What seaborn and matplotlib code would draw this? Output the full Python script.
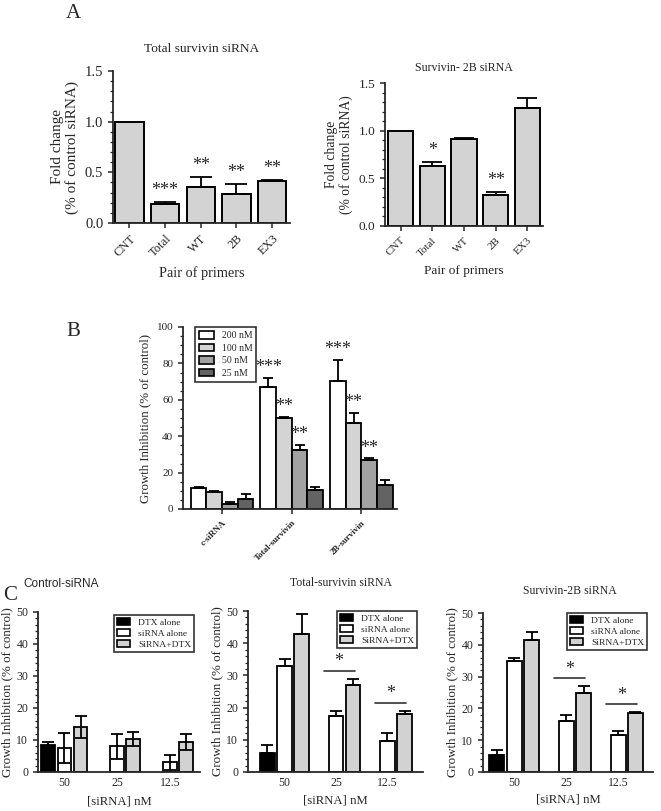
import numpy as np
import pandas as pd
import seaborn as sns
import matplotlib.pyplot as plt
from matplotlib.patches import Patch
from matplotlib.ticker import MultipleLocator

sns.set_style("ticks")
plt.rcParams['font.family'] = ['Liberation Serif', 'DejaVu Serif']
plt.rcParams['axes.linewidth'] = 1.3

# Panel A data
primers = ['CNT', 'Total', 'WT', '2B', 'EX3']
total_fold = [1.0, 0.19, 0.36, 0.29, 0.41]
total_err = [0.0, 0.02, 0.09, 0.09, 0.01]
total_stars = ['', '***', '**', '**', '**']
b2_fold = [1.0, 0.63, 0.91, 0.32, 1.24]
b2_err = [0.0, 0.04, 0.01, 0.04, 0.10]
b2_stars = ['', '*', '', '**', '']

# Panel B data
groups_b = ['c-siRNA', 'Total-survivin', '2B-survivin']
doses = ['200 nM', '100 nM', '50 nM', '25 nM']
gi_200 = [11.5, 67.0, 70.5]
gi_100 = [9.5, 50.0, 47.0]
gi_50 = [3.0, 32.5, 27.0]
gi_25 = [5.5, 10.5, 13.0]
err_200 = [0.4, 5.0, 11.5]
err_100 = [0.5, 0.8, 6.0]
err_50 = [0.8, 2.5, 0.8]
err_25 = [2.5, 1.5, 3.0]
stars_b = {'200 nM': ['', '***', '***'], '100 nM': ['', '**', '**'],
           '50 nM': ['', '**', '**'], '25 nM': ['', '', '']}
dose_colors = ['white', '#d4d4d4', '#a2a2a2', '#636363']

# Panel C data
conc = ['50', '25', '12.5']
treat = ['DTX alone', 'siRNA alone', 'SiRNA+DTX']
treat_colors = ['black', 'white', '#d2d2d2']
ctrl_dtx = [8.5, np.nan, np.nan]
ctrl_sirna = [7.5, 8.0, 3.0]
ctrl_combo = [14.0, 10.3, 9.3]
ctrl_dtx_err = [1.0, 0, 0]
ctrl_sirna_err = [4.7, 3.8, 2.4]
ctrl_combo_err = [3.5, 2.3, 2.5]
tot_dtx = [6.0, np.nan, np.nan]
tot_sirna = [33.0, 17.5, 9.5]
tot_combo = [43.0, 27.0, 18.0]
tot_dtx_err = [2.5, 0, 0]
tot_sirna_err = [2.0, 1.5, 2.5]
tot_combo_err = [6.0, 2.0, 1.0]
b2c_dtx = [5.5, np.nan, np.nan]
b2c_sirna = [35.0, 16.0, 11.5]
b2c_combo = [41.5, 25.0, 18.5]
b2c_dtx_err = [1.5, 0, 0]
b2c_sirna_err = [1.0, 2.0, 1.5]
b2c_combo_err = [2.5, 2.0, 0.3]
sig_conc = ['25', '12.5']

W, H = 661, 811
fig = plt.figure(figsize=(W / 100, H / 100), dpi=100)


def box(x0, y0, x1, y1):
    return [x0 / W, 1 - y1 / H, (x1 - x0) / W, (y1 - y0) / H]


def add_errors(ax, errs, capsize, both=False, lw=1.3):
    # errs: list (one per container) of lists indexed by category
    for cont, e in zip(ax.containers, errs):
        for bar in cont:
            h = bar.get_height()
            if np.isnan(h):
                continue
            xc = bar.get_x() + bar.get_width() / 2
            k = int(round(xc))
            ev = e[k]
            if ev <= 0:
                continue
            lo = ev if both else 0
            ax.errorbar(xc, h, yerr=[[lo], [ev]], fmt='none', ecolor='black',
                        elinewidth=lw, capsize=capsize, capthick=lw, zorder=3)


def style(ax, fs):
    sns.despine(ax=ax)
    ax.tick_params(axis='both', labelsize=fs, width=1.1, length=3.5, direction='out')
    ax.tick_params(axis='y', which='minor', width=0.9, length=2)


# ---------- Panel A ----------
for rect, vals, errs, stars, title, fs, tfs, lfs, xfs, cap, xl, tpad in [
        (box(113, 71, 290, 223), total_fold, total_err, total_stars,
         'Total survivin siRNA', 10.5, 9.6, 11, 10.3, 8, (-0.46, 4.5), 14),
        (box(385, 83, 543, 226), b2_fold, b2_err, b2_stars,
         'Survivin- 2B siRNA', 9.5, 8.6, 9.8, 9.5, 7, (-0.49, 4.49), 9)]:
    ax = fig.add_axes(rect)
    sns.barplot(x=primers, y=vals, color='#d3d3d3', edgecolor='black',
                linewidth=1.4, width=0.8, ax=ax)
    add_errors(ax, [errs], cap)
    for bar, s, e in zip(ax.containers[0], stars, errs):
        if s:
            ax.text(bar.get_x() + bar.get_width() / 2, bar.get_height() + e + 0.03, s,
                    ha='center', va='bottom', fontsize=13)
    ax.set_ylim(0, 1.5)
    ax.set_xlim(*xl)
    ax.yaxis.set_major_locator(MultipleLocator(0.5))
    ax.yaxis.set_minor_locator(MultipleLocator(0.1))
    style(ax, fs)
    ax.set_yticklabels([f'{v:.1f}' for v in ax.get_yticks()])
    plt.setp(ax.get_xticklabels(), rotation=45, ha='right', rotation_mode='anchor',
             fontsize=fs - 1.5)
    ax.set_title(title, fontsize=tfs, pad=tpad)
    ax.set_xlabel('Pair of primers', fontsize=xfs, labelpad=5)
    ax.set_ylabel('Fold change\n(% of control siRNA)', fontsize=lfs, linespacing=1.1)

fig.text(73 / W, 1 - 14 / H, 'A', fontsize=15, ha='center', va='center')

# ---------- Panel B ----------
ax = fig.add_axes(box(183, 327, 397, 509))
df_b = pd.DataFrame({
    'group': groups_b * 4,
    'dose': np.repeat(doses, 3),
    'gi': gi_200 + gi_100 + gi_50 + gi_25,
})
sns.barplot(data=df_b, x='group', y='gi', hue='dose', order=groups_b, hue_order=doses,
            palette=dose_colors, edgecolor='black', linewidth=1.3, width=0.9,
            errorbar=None, legend=False, ax=ax)
add_errors(ax, [err_200, err_100, err_50, err_25], 3.5)
for cont, d, e in zip(ax.containers, doses, [err_200, err_100, err_50, err_25]):
    for bar, s, ev in zip(cont, stars_b[d], e):
        if s:
            ax.text(bar.get_x() + bar.get_width() / 2, bar.get_height() + ev + 1.0, s,
                    ha='center', va='bottom', fontsize=13)
ax.set_ylim(0, 100)
ax.set_xlim(-0.56, 2.51)
ax.yaxis.set_major_locator(MultipleLocator(20))
ax.yaxis.set_minor_locator(MultipleLocator(5))
style(ax, 8)
plt.setp(ax.get_xticklabels(), rotation=45, ha='right', rotation_mode='anchor',
         fontsize=6.5, fontweight='bold')
ax.set_xlabel('')
ax.set_ylabel('Growth Inhibition (% of control)', fontsize=9.3)
handles = [Patch(facecolor=c, edgecolor='black', linewidth=1.2) for c in dose_colors]
leg = ax.legend(handles, doses, loc='upper left', bbox_to_anchor=(0.035, 1.025),
                fontsize=7, frameon=True, fancybox=False, edgecolor='black',
                handlelength=1.5, handleheight=0.8, borderpad=0.4, labelspacing=0.35)
leg.get_frame().set_linewidth(1.2)
fig.text(73 / W, 1 - 332 / H, 'B', fontsize=15, ha='center', va='center')

# ---------- Panel C ----------
panels_c = [
    (box(38, 612, 200, 772), [ctrl_dtx, ctrl_sirna, ctrl_combo],
     [ctrl_dtx_err, ctrl_sirna_err, ctrl_combo_err], True, 'Control-siRNA',
     (-0.5, 2.57), 0.92, ['Liberation Sans'], 18, 5, 0.14, 1.01),
    (box(248, 611, 423, 772), [tot_dtx, tot_sirna, tot_combo],
     [tot_dtx_err, tot_sirna_err, tot_combo_err], False, 'Total-survivin siRNA',
     (-0.71, 2.69), 1.0, ['Liberation Serif'], 18, 4, 0.53, 1.03),
    (box(483, 613, 653, 772), [b2c_dtx, b2c_sirna, b2c_combo],
     [b2c_dtx_err, b2c_sirna_err, b2c_combo_err], False, 'Survivin-2B siRNA',
     (-0.6, 2.67), 1.0, ['Liberation Serif'], 14, 3, 0.51, 1.03),
]
for i, (rect, vals, errs, both, title, xl, wd, tfam, tpad, xpad, tx, ly) in enumerate(panels_c):
    ax = fig.add_axes(rect)
    df_c = pd.DataFrame({
        'conc': conc * 3,
        'treat': np.repeat(treat, 3),
        'gi': vals[0] + vals[1] + vals[2],
    }).dropna()
    sns.barplot(data=df_c, x='conc', y='gi', hue='treat', order=conc, hue_order=treat,
                palette=treat_colors, edgecolor='black', linewidth=1.3, width=wd,
                gap=0.15, errorbar=None, legend=False, ax=ax)
    add_errors(ax, errs, 4, both=both)
    if i > 0:
        # significance bars between siRNA alone and siRNA+DTX
        sir_bars = {int(round(b.get_x() + b.get_width() / 2)): b for b in ax.containers[1]}
        com_bars = {int(round(b.get_x() + b.get_width() / 2)): b for b in ax.containers[2]}
        for c in sig_conc:
            k = conc.index(c)
            b1, b2 = sir_bars[k], com_bars[k]
            top = b2.get_height() + errs[2][k]
            yline = top + 2.5
            x1 = b1.get_x() - 0.1
            x2 = b2.get_x() + b2.get_width() * 0.6
            ax.plot([x1, x2], [yline, yline], color='#333333', lw=1.2)
            ax.text((x1 + x2) / 2, yline + 0.2, '*', ha='center', va='bottom', fontsize=13)
    ax.set_ylim(0, 50)
    ax.set_xlim(*xl)
    ax.yaxis.set_major_locator(MultipleLocator(10))
    ax.yaxis.set_minor_locator(MultipleLocator(2))
    style(ax, 8.5)
    ax.tick_params(axis='x', length=0)
    ax.set_title(title, fontsize=8.5, pad=tpad, family=tfam, x=tx)
    ax.set_xlabel('[siRNA] nM', fontsize=9.2, labelpad=xpad)
    ax.set_ylabel('Growth Inhibition (% of control)', fontsize=9.4, labelpad=2)
    handles = [Patch(facecolor=c, edgecolor='black', linewidth=1.2) for c in treat_colors]
    leg = ax.legend(handles, treat, loc='upper right', bbox_to_anchor=(0.995, ly),
                    fontsize=6.8, frameon=True, fancybox=False, edgecolor='black',
                    handlelength=1.4, handleheight=0.7, borderpad=0.35, labelspacing=0.25)
    leg.get_frame().set_linewidth(1.2)

fig.text(10 / W, 1 - 596 / H, 'C', fontsize=15, ha='center', va='center')

fig.savefig('out.png', dpi=100)
